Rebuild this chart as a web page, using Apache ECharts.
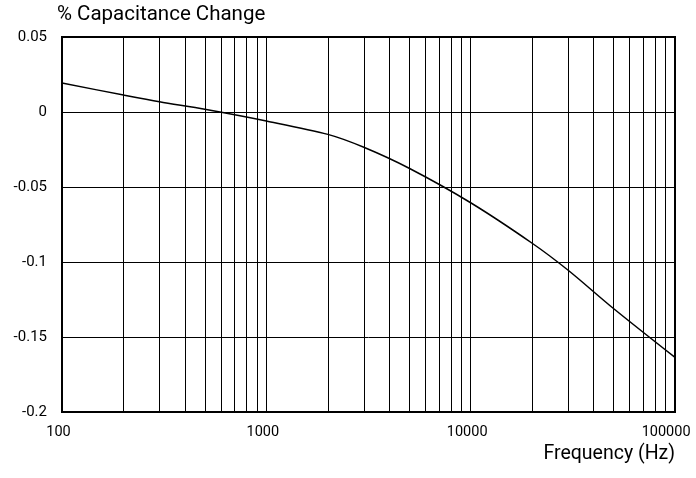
<!DOCTYPE html>
<html>
<head>
<meta charset="utf-8">
<script src="https://cdn.jsdelivr.net/npm/echarts@6/dist/echarts.min.js"></script>
<style>
  html, body { margin: 0; padding: 0; background: #fff; }
  #chart { width: 696px; height: 478px; }
</style>
</head>
<body>
<div id="chart"></div>
<script>
const freqs = [100, 200, 300, 500, 1000, 2000, 3000, 5000, 10000, 20000, 30000, 50000, 100000]
const change = [0.0193, 0.0113, 0.0068, 0.0018, -0.006, -0.0149, -0.0235, -0.0375, -0.0605, -0.0875, -0.1055, -0.131, -0.1636]

// minor vertical grid lines (2..9 of each decade)
const minorLines = [
  200, 300, 400, 500, 600, 700, 800, 900,
  2000, 3000, 4000, 5000, 6000, 7000, 8000, 9000,
  20000, 30000, 40000, 50000, 60000, 70000, 80000, 90000
]

const font = 'Roboto'

const chart = echarts.init(document.getElementById('chart'))
chart.setOption({
  animation: false,
  grid: {
    left: 62,
    right: 21,
    top: 37,
    bottom: 66,
    outerBoundsMode: 'none',
    show: true,
    borderColor: '#000',
    borderWidth: 2,
    backgroundColor: 'transparent'
  },
  graphic: [
    {
      type: 'text',
      left: 57,
      top: 4,
      style: { text: '% Capacitance Change', fontFamily: font, fontSize: 20.5, fill: '#000' }
    },
    {
      type: 'text',
      right: 21,
      top: 444,
      style: { text: 'Frequency (Hz)', fontFamily: font, fontSize: 19.5, fill: '#000' }
    }
  ],
  xAxis: {
    type: 'log',
    logBase: 10,
    min: 100,
    max: 100000,
    axisLine: { show: false },
    axisTick: { show: false },
    splitLine: { show: true, lineStyle: { color: '#000', width: 1 } },
    axisLabel: {
      color: '#000',
      fontFamily: font,
      fontSize: 14.5,
      margin: 13,
      padding: [0, 7, 0, 0],
      // last label sits left of the axis end
      formatter: (v) => (v === 100000 ? v + '   ' : String(v))
    }
  },
  yAxis: {
    type: 'value',
    min: -0.2,
    max: 0.05,
    interval: 0.05,
    axisLine: { show: false },
    axisTick: { show: false },
    splitLine: { show: true, lineStyle: { color: '#000', width: 1 } },
    axisLabel: { color: '#000', fontFamily: font, fontSize: 15, margin: 15 }
  },
  series: [
    {
      type: 'line',
      data: freqs.map((f, i) => [f, change[i]]),
      smooth: 0.3,
      showSymbol: false,
      lineStyle: { color: '#000', width: 1.5 },
      markLine: {
        silent: true,
        symbol: 'none',
        label: { show: false },
        lineStyle: { color: '#000', width: 1, type: 'solid' },
        data: minorLines.map((x) => ({ xAxis: x }))
      }
    }
  ]
})
</script>
</body>
</html>
